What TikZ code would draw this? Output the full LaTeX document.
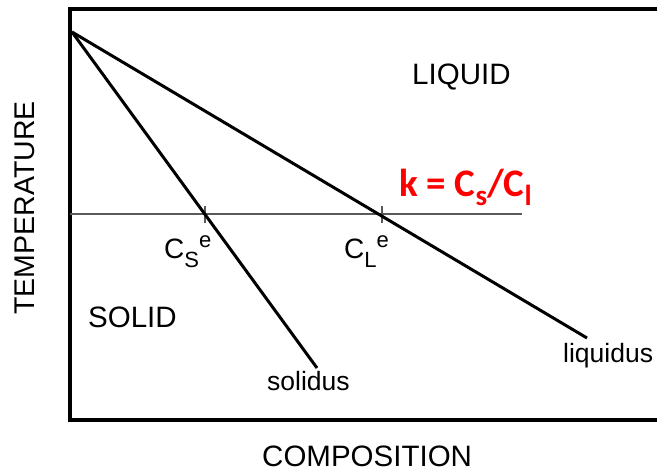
\documentclass[tikz,border=0pt]{standalone}
\usepackage{fontspec}
\setmainfont{Liberation Sans}
\newfontfamily\calfont{Carlito}
\begin{document}
\begin{tikzpicture}[x=1pt,y=-1pt,
  lbl/.style={inner sep=0pt, anchor=base west, font=\fontsize{29.5}{30}\selectfont},
  smalllbl/.style={inner sep=0pt, anchor=base west, font=\fontsize{26.5}{27}\selectfont},
  conclbl/.style={inner sep=0pt, anchor=base west, font=\fontsize{28}{28}\selectfont},
  curve/.style={line width=3pt, black},
  frame/.style={line width=4pt, black},
  isotherm/.style={line width=2pt, black!65},
  tick/.style={line width=1.2pt, black!65}]
\useasboundingbox (0,0) rectangle (657,473);
% frame
\coordinate (tr) at (657,9);
\coordinate (tl) at (70,9);
\coordinate (bl) at (70,420);
\coordinate (br) at (657,420);
\draw[frame] (tr) -- (tl) -- (bl) -- (br);
% isotherm
\coordinate (h1) at (70,214.5);
\coordinate (h2) at (522,214.5);
\draw[isotherm] (h1) -- (h2);
\coordinate (t1a) at (205,206);
\coordinate (t1b) at (205,223);
\coordinate (t2a) at (382,206);
\coordinate (t2b) at (382,223);
\draw[tick] (t1a) -- (t1b);
\draw[tick] (t2a) -- (t2b);
% solidus and liquidus
\coordinate (apex) at (72,32);
\coordinate (sol) at (317,368);
\coordinate (liq) at (587,338);
\draw[curve] (apex) -- (sol);
\draw[curve] (apex) -- (liq);
% labels
\node[lbl] (liquidlbl) at (412,85) {LIQUID};
\node[lbl] (solidlbl) at (88,328) {SOLID};
\node[lbl] (complbl) at (262,467) {COMPOSITION};
\node[inner sep=0pt, rotate=90, font=\fontsize{28.5}{29}\selectfont] (templbl) at (25,208) {TEMPERATURE};
\node[smalllbl] (solidus) at (267,391) {solidus};
\node[smalllbl] (liquidus) at (563,363) {liquidus};
\node[conclbl] (cs) at (164,259) {C\raisebox{-9pt}{\fontsize{22}{22}\selectfont S}\raisebox{11pt}{\fontsize{22}{22}\selectfont e}};
\node[conclbl] (cl) at (344,259) {C\raisebox{-9pt}{\fontsize{22}{22}\selectfont L}\raisebox{11pt}{\fontsize{22}{22}\selectfont e}};
\node[inner sep=0pt, anchor=base west, text=red, font=\calfont\bfseries\fontsize{39}{39}\selectfont] (klbl) at (399,197)
  {k = C\raisebox{-9pt}{\fontsize{29}{29}\selectfont s}/C\raisebox{-9pt}{\fontsize{29}{29}\selectfont l}};
\end{tikzpicture}
\end{document}
